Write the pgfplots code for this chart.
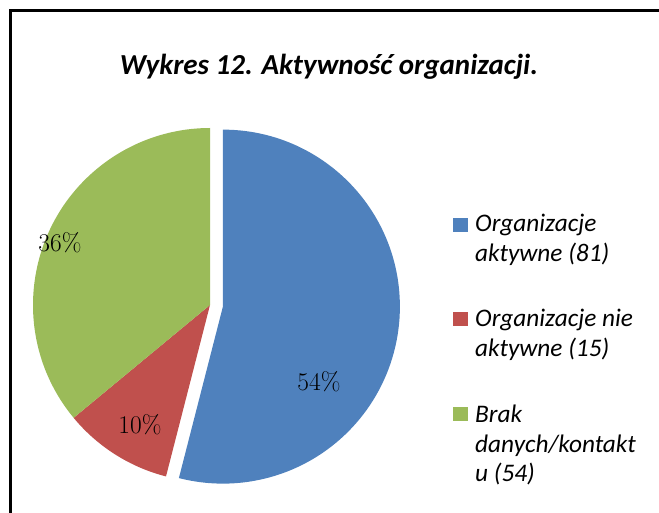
\documentclass[border=0pt]{standalone}
\usepackage{fontspec}
\usepackage{pgfplots}
\usepackage{pgfplotstable}
\pgfplotsset{compat=1.18}
\usetikzlibrary{calc}
\newfontfamily\carlito{Carlito}
\definecolor{cblue}{HTML}{4F81BD}
\definecolor{cred}{HTML}{C0504D}
\definecolor{cgreen}{HTML}{9BBB59}

\pgfplotstableread{
value
81
15
54
}\pietable

\begin{document}
\begin{tikzpicture}
\useasboundingbox (0,0) rectangle (659pt,512pt);
\clip (0,0) rectangle (659pt,512pt);
\pgfplotstablegetelem{0}{value}\of\pietable \let\vA\pgfplotsretval
\pgfplotstablegetelem{1}{value}\of\pietable \let\vB\pgfplotsretval
\pgfplotstablegetelem{2}{value}\of\pietable \let\vC\pgfplotsretval
\pgfmathsetmacro\tot{\vA+\vB+\vC}
\pgfmathsetmacro\fA{\vA/\tot}
\pgfmathsetmacro\fB{\vB/\tot}
\pgfmathsetmacro\fC{\vC/\tot}
\pgfmathsetmacro\aA{90-360*\fA}
\pgfmathsetmacro\aB{\aA-360*\fB}
\pgfmathsetmacro\mA{90-180*\fA}
\pgfmathtruncatemacro\pA{round(100*\fA)}
\pgfmathtruncatemacro\pB{round(100*\fB)}
\pgfmathtruncatemacro\pC{round(100*\fC)}
\begin{axis}[at={(0,0)}, anchor=origin, x=1pt, y=1pt,
  xmin=0, xmax=659, ymin=0, ymax=512, hide axis, clip=false]
% frame
\draw[line width=3pt] (axis cs:10,-20) -- (axis cs:10,501) -- (axis cs:700,501);
% pie
\fill[cblue] ($(axis cs:210,207)+(\mA:13pt)$) -- ++(90:177pt)
   arc[start angle=90, end angle=\aA, radius=177pt] -- cycle;
\fill[cred] (axis cs:210,207) -- ++(\aA:177pt)
   arc[start angle=\aA, end angle=\aB, radius=177pt] -- cycle;
\fill[cgreen] (axis cs:210,207) -- ++(\aB:177pt)
   arc[start angle=\aB, end angle=-270, radius=177pt] -- cycle;
% data labels
\node[font=\fontsize{25.5}{30}\selectfont] at (axis cs:319,130) {\pA\%};
\node[font=\fontsize{25.5}{30}\selectfont] at (axis cs:140,87) {\pB\%};
\node[font=\fontsize{25.5}{30}\selectfont] at (axis cs:60,269) {\pC\%};
% title
\node[font=\carlito\bfseries\itshape\fontsize{29}{35}\selectfont] at (axis cs:329,445) {Wykres 12. Aktywność organizacji.};
% legend
\fill[cblue] (axis cs:453,280) rectangle (axis cs:468,294);
\fill[cred] (axis cs:453,186) rectangle (axis cs:468,200);
\fill[cgreen] (axis cs:453,91) rectangle (axis cs:468,105);
\begin{scope}[every node/.style={anchor=base west, inner sep=0pt, font=\carlito\itshape\fontsize{25.3}{30}\selectfont}]
\node at (axis cs:475,280) {Organizacje};
\node at (axis cs:475,250) {aktywne (81)};
\node at (axis cs:475,185) {Organizacje nie};
\node at (axis cs:475,155) {aktywne (15)};
\node at (axis cs:475,90) {Brak};
\node at (axis cs:475,60) {danych/kontakt};
\node at (axis cs:475,31) {u (54)};
\end{scope}
\end{axis}
\end{tikzpicture}
\end{document}
